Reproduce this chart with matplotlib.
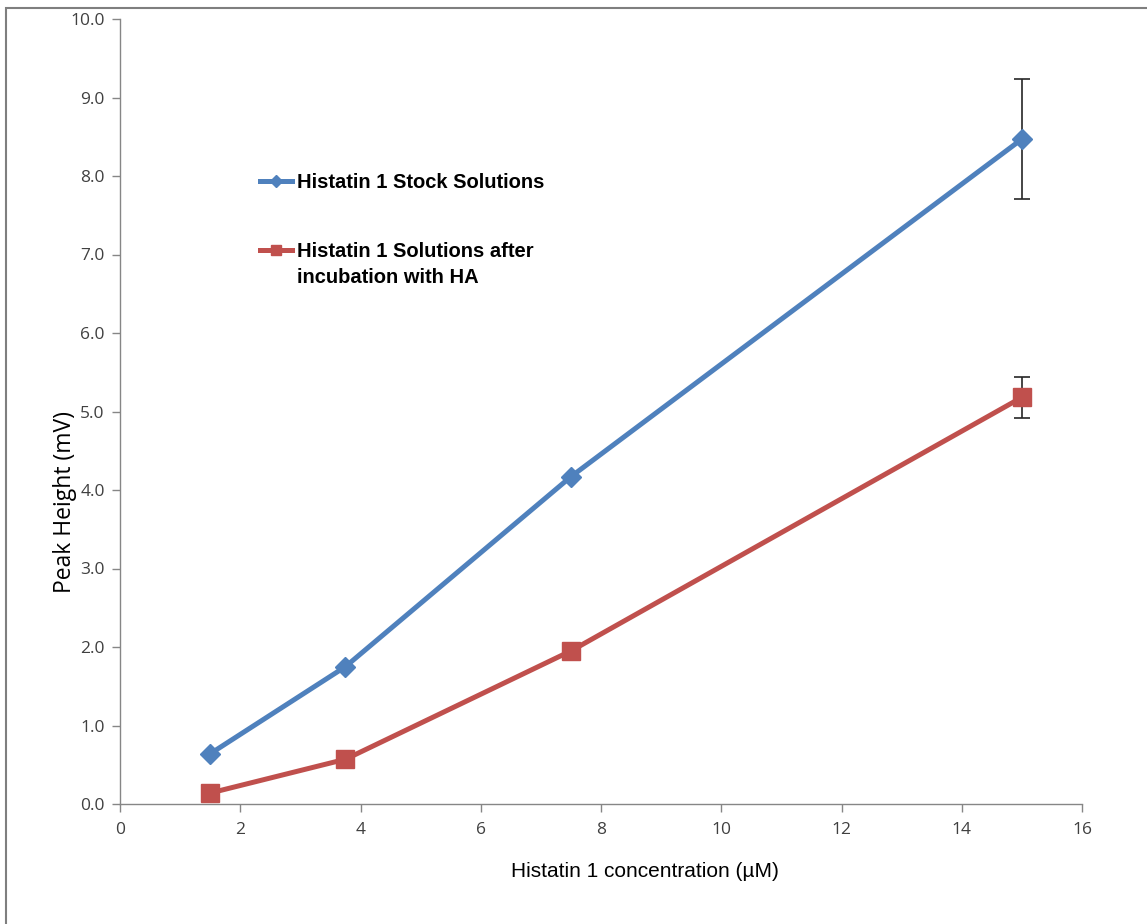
import matplotlib
matplotlib.use("Agg")
import matplotlib.pyplot as plt
from matplotlib.patches import Rectangle

# datos
concentracion = [1.5, 3.75, 7.5, 15]
stock = [0.64, 1.75, 4.17, 8.47]
stock_err = [0, 0, 0, 0.76]
incubado = [0.14, 0.57, 1.95, 5.18]
incubado_err = [0, 0, 0, 0.26]

etiqueta_stock = "Histatin 1 Stock Solutions"
etiqueta_inc_1 = "Histatin 1 Solutions after"
etiqueta_inc_2 = "incubation with HA"

azul = "#4F81BD"
rojo = "#C0504D"
gris = "#868686"

fig = plt.figure(figsize=(11.47, 9.24), dpi=100)
ax = fig.add_axes([120 / 1147, 120 / 924, 962 / 1147, 785 / 924])

# marco gris del area del grafico
fig.add_artist(Rectangle((6 / 1147, -0.2), 2.0, 1.2 - 8 / 924, transform=fig.transFigure,
                         fill=False, edgecolor="#7f7f7f", linewidth=1.5))

ax.errorbar(concentracion, stock, yerr=stock_err, fmt="none", ecolor="#262626",
            elinewidth=1.2, capsize=6, capthick=1.2, zorder=2)
ax.errorbar(concentracion, incubado, yerr=incubado_err, fmt="none", ecolor="#262626",
            elinewidth=1.2, capsize=6, capthick=1.2, zorder=2)
ax.plot(concentracion, stock, color=azul, linewidth=3.6, marker="D", markersize=10,
        label=etiqueta_stock, zorder=3)
ax.plot(concentracion, incubado, color=rojo, linewidth=3.6, marker="s", markersize=13,
        label=etiqueta_inc_1, zorder=3)

ax.set_xlim(0, 16)
ax.set_ylim(0, 10)
ax.set_xticks(range(0, 17, 2))
ax.set_yticks([i * 1.0 for i in range(11)])
ax.set_yticklabels(["%.1f" % (i * 1.0) for i in range(11)])

for lado in ["top", "right"]:
    ax.spines[lado].set_visible(False)
for lado in ["left", "bottom"]:
    ax.spines[lado].set_color(gris)
    ax.spines[lado].set_linewidth(1)
ax.tick_params(direction="out", length=6, width=1, color=gris, labelcolor="#404040",
               labelsize=12.5)
ax.tick_params(axis="y", pad=5)
ax.tick_params(axis="x", pad=7)
for t in ax.get_xticklabels() + ax.get_yticklabels():
    t.set_fontfamily(["Open Sans", "DejaVu Sans"])

ax.set_xlabel("Histatin 1 concentration (µM)", fontsize=15, family="Liberation Sans")
ax.xaxis.set_label_coords((645 - 120) / 962, -(862 - 804) / 785)
ax.set_ylabel("Peak Height (mV)", fontsize=16.5, family="Open Sans")
ax.yaxis.set_label_coords((77 - 120) / 962, (804 - 502) / 785)

leyenda = ax.legend(loc="upper left", bbox_to_anchor=(0.1455, 0.804), frameon=False,
                    borderpad=0, borderaxespad=0, handlelength=1.6, handletextpad=0.25,
                    labelspacing=2.5, markerscale=0.6,
                    prop={"family": "Liberation Sans", "weight": "bold", "size": 14.5})
leyenda.set_zorder(5)
ax.annotate(etiqueta_inc_2, xy=(0, 0), xycoords=leyenda.get_texts()[1],
            xytext=(0, -5), textcoords="offset points", va="top", ha="left",
            family="Liberation Sans", weight="bold", fontsize=14.5, zorder=6)

fig.savefig("out.png", dpi=100)
